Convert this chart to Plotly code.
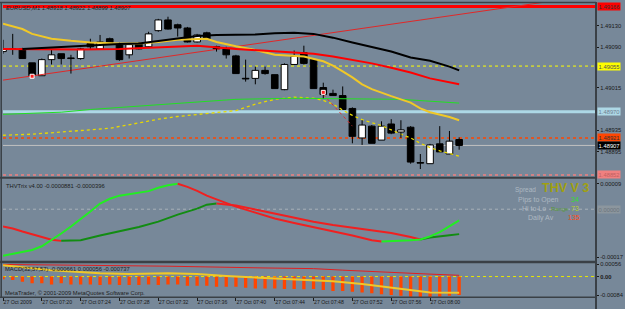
import plotly.graph_objects as go

# ---------------- data ----------------
title_main = "EURUSD,M1 1.48918 1.48922 1.48899 1.48907"
title_trix = "THVTrix v4.00 -0.0000881 -0.0000396"
title_macd = "MACD(32,57,57) -0.000661 0.000056 -0.000737"
copyright_text = "MetaTrader, \u00a9 2001-2009 MetaQuotes Software Corp."

bar_idx = list(range(48))  # minutes after 07:16
opens = [1.49082, 1.49087, 1.49087, 1.49061, 1.49037, 1.49067, 1.49078, 1.49070, 1.49069, 1.49097,
         1.49087, 1.49106, 1.49097, 1.49076, 1.49097, 1.49091, 1.49121, 1.49141, 1.49132, 1.49126,
         1.49100, 1.49117, 1.49091, 1.49087, 1.49074, 1.49032, 1.49032, 1.49047, 1.49039, 1.49011,
         1.49058, 1.49080, 1.49067, 1.49015, 1.49004, 1.49000, 1.48976, 1.48921, 1.48943, 1.48917,
         1.48947, 1.48932, 1.48941, 1.48875, 1.48873, 1.48910, 1.48891, 1.48918]
highs = [1.49104, 1.49115, 1.49089, 1.49061, 1.49069, 1.49086, 1.49078, 1.49076, 1.49089, 1.49106,
         1.49113, 1.49108, 1.49099, 1.49097, 1.49100, 1.49119, 1.49143, 1.49147, 1.49134, 1.49128,
         1.49115, 1.49119, 1.49093, 1.49091, 1.49076, 1.49067, 1.49054, 1.49054, 1.49039, 1.49060,
         1.49084, 1.49093, 1.49069, 1.49024, 1.49011, 1.49017, 1.48978, 1.48954, 1.48945, 1.48952,
         1.48956, 1.48954, 1.48943, 1.48891, 1.48910, 1.48943, 1.48934, 1.48922]
lows = [1.49078, 1.49076, 1.49069, 1.49036, 1.49037, 1.49058, 1.49058, 1.49041, 1.49067, 1.49087,
        1.49086, 1.49095, 1.49065, 1.49069, 1.49086, 1.49089, 1.49119, 1.49123, 1.49110, 1.49099,
        1.49099, 1.49104, 1.49082, 1.49069, 1.49041, 1.49026, 1.49021, 1.49039, 1.49013, 1.49010,
        1.49058, 1.49058, 1.49013, 1.48995, 1.49000, 1.48974, 1.48911, 1.48908, 1.48911, 1.48917,
        1.48928, 1.48921, 1.48873, 1.48863, 1.48873, 1.48895, 1.48891, 1.48899]
closes = [1.49087, 1.49086, 1.49069, 1.49037, 1.49067, 1.49076, 1.49069, 1.49069, 1.49087, 1.49091,
          1.49100, 1.49099, 1.49067, 1.49095, 1.49087, 1.49115, 1.49141, 1.49124, 1.49126, 1.49100,
          1.49113, 1.49106, 1.49087, 1.49076, 1.49041, 1.49031, 1.49047, 1.49041, 1.49013, 1.49058,
          1.49073, 1.49060, 1.49013, 1.49002, 1.49000, 1.48974, 1.48924, 1.48945, 1.48911, 1.48943,
          1.48930, 1.48936, 1.48876, 1.48874, 1.48908, 1.48895, 1.48915, 1.48907]

time_tick_bars = [0, 4, 8, 12, 16, 20, 24, 28, 32, 36, 40, 44]
time_tick_labels = ["27 Oct 2009", "27 Oct 07:20", "27 Oct 07:24", "27 Oct 07:28", "27 Oct 07:32",
                    "27 Oct 07:36", "27 Oct 07:40", "27 Oct 07:44", "27 Oct 07:48", "27 Oct 07:52",
                    "27 Oct 07:56", "27 Oct 08:00"]

# visible price-scale labels (the others are hidden under the level boxes)
price_ticks = [1.49130, 1.49090, 1.49015, 1.48935, 1.48895]

black_k = [2, 4, 6, 8, 10, 12, 14, 16, 18, 20, 22, 24, 26, 28, 30, 32, 34, 36, 38, 40, 42, 44, 46, 47]
black_p = [1.49087, 1.49089, 1.49091, 1.49093, 1.49095, 1.49096, 1.49097, 1.49102, 1.49106, 1.49111,
           1.49113, 1.49113, 1.49114, 1.49116, 1.49117, 1.49115, 1.49108, 1.49099, 1.49091, 1.49082,
           1.49071, 1.49065, 1.49054, 1.49047]

red_ma_k = [0, 4, 8, 12, 16, 20, 24, 28, 32, 34, 36, 38, 40, 42, 44, 47]
red_ma_p = [1.49087, 1.49086, 1.49086, 1.49087, 1.49090, 1.49093, 1.49087, 1.49082, 1.49078, 1.49073,
            1.49067, 1.49060, 1.49052, 1.49043, 1.49032, 1.49021]

yel_ma_k = [0, 2, 3, 5, 7, 9, 12, 14, 16, 18, 21, 22, 24, 26, 28, 31, 33, 34, 35, 36, 37, 38, 40, 41,
            42, 43, 44, 46, 47]
yel_ma_p = [1.49134, 1.49124, 1.49115, 1.49106, 1.49102, 1.49099, 1.49097, 1.49097, 1.49100, 1.49104,
            1.49106, 1.49100, 1.49092, 1.49085, 1.49076, 1.49073, 1.49064, 1.49056, 1.49045, 1.49034,
            1.49021, 1.49012, 1.48999, 1.48993, 1.48987, 1.48976, 1.48969, 1.48960, 1.48954]

green_k = [0, 3, 6, 9, 12, 15, 18, 21, 24, 30, 37, 41, 47]
green_p = [1.48965, 1.48967, 1.48969, 1.48974, 1.48978, 1.48982, 1.48986, 1.48989, 1.48993, 1.48995,
           1.48993, 1.48993, 1.48986]

ydot_k = [0, 3, 6, 8, 11, 14, 16, 18, 21, 24, 26, 28, 30, 32, 33, 34, 35, 36, 37, 38, 39, 41, 42, 43,
          44, 45, 46, 47]
ydot_p = [1.48926, 1.48928, 1.48932, 1.48935, 1.48939, 1.48949, 1.48956, 1.48961, 1.48967, 1.48972,
          1.48984, 1.48993, 1.48997, 1.48995, 1.48991, 1.48984, 1.48973, 1.48963, 1.48955, 1.48950,
          1.48944, 1.48928, 1.48921, 1.48911, 1.48903, 1.48897, 1.48892, 1.48887]

trend_k = [-0.3, 61.1]
trend_p = [1.49028, 1.49188]
rdash_k = [33, 36]
rdash_p = [1.49002, 1.48943]
signal_k = [3, 33]
signal_p = [1.49036, 1.49006]

# horizontal price levels: value, colour, width, dash, label bg, label text colour
level_vals = [1.49166, 1.49055, 1.48970, 1.48921, 1.48907, 1.48852]
level_cols = ["#ff0000", "#ffff00", "#add8e6", "#ff4500", "#c0c0c0", "#f08080"]
level_w = [3, 1, 3, 1.5, 1, 1.5]
level_dash = ["solid", "dot", "solid", "dot", "solid", "dot"]
level_box = ["#ff0000", "#ffff00", "#add8e6", "#ff4500", "#000000", "#f08080"]
level_txt = ["#303030", "#505050", "#708090", "#303030", "#ffffff", "#c06060"]

# THV Trix sub-window
fast_k = [0, 2, 3, 4, 5, 6, 7, 8, 9, 10, 11, 12, 13, 14, 15, 16, 17, 18, 19, 20, 21, 22, 24, 26, 28,
          30, 32, 34, 36, 38, 39, 40, 41, 42, 43, 44, 45, 46, 47]
fast_v = [-165, -152, -144, -131, -110, -86, -61, -36, -8, 20, 37, 48, 53, 57, 64, 76, 85, 90, 79, 65,
          48, 35, 9, -12, -33, -49, -63, -77, -93, -110, -114, -113, -112, -110, -107, -96, -81, -61,
          -39.6]  # x 1e-6
slow_k = [0, 1, 2, 3, 4, 5, 6, 8, 10, 12, 14, 16, 18, 20, 21, 22, 24, 26, 28, 30, 32, 34, 36, 38, 40,
          42, 43, 44, 46, 47]
slow_v = [-61, -68, -79, -89, -100, -108, -112, -110, -93, -79, -63, -44, -19, 2, 16, 20, 13, -1, -16,
          -30, -44, -56, -66, -75, -84, -98, -107, -100, -92, -88.1]  # x 1e-6
trix_ticks = [0.00009, -0.00017]

# MACD sub-window
macd_hist = [-0.00012, -0.00016, -0.00024, -0.00031, -0.00031, -0.00036, -0.00031, -0.00036, -0.00036,
             -0.00036, -0.00039, -0.00036, -0.00039, -0.00039, -0.00039, -0.00036, -0.00039, -0.00036,
             -0.00036, -0.00042, -0.00042, -0.00042, -0.00046, -0.00046, -0.00046, -0.00051, -0.00054,
             -0.00054, -0.00054, -0.00057, -0.00057, -0.00058, -0.00057, -0.00061, -0.00066, -0.00066,
             -0.00069, -0.00072, -0.00076, -0.00081, -0.00084, -0.00087, -0.00092, -0.00096, -0.00096,
             -0.00092, -0.00087, -0.00084]
macd_red_k = [0, 10, 17, 27, 32, 35, 39, 44, 47]
macd_red_v = [0.00055, 0.00051, 0.00047, 0.00039, 0.00036, 0.00029, 0.00020, 0.00011, 0.000056]
macd_yel_k = [0, 2, 5, 10, 13, 17, 20, 23, 27, 30, 34, 37, 40, 44, 47]
macd_yel_v = [0.00051, 0.00042, 0.00029, 0.00015, 0.00011, 0.00015, 0.00011, 0.00002, -0.00007, -0.00011,
              -0.00021, -0.00034, -0.00052, -0.00073, -0.000737]
macd_ticks = [0.00056, 0.0, -0.00084]
macd_tick_labels = ["0.00056", "<b>0.00</b>", "-0.00084"]

# ---------------- styling / layout helpers ----------------
BG = "#778899"
FONT = "Liberation Sans"
W, H = 625, 309
L, R, T, B = 3, 23, 1, 12
PW = W - L - R
PH = H - T - B


def px(x):
    return (x - L) / PW


def py(y):
    return (H - B - y) / PH


XR = [0, 61.1]
fig = go.Figure()

# ---- main window ----
fig.add_trace(go.Scatter(x=trend_k, y=trend_p, mode="lines", line=dict(color="#e02828", width=1),
                         xaxis="x", yaxis="y"))
fig.add_trace(go.Scatter(x=ydot_k, y=ydot_p, mode="lines", line=dict(color="#e8d800", width=1.3, dash="dot"),
                         xaxis="x", yaxis="y"))
fig.add_trace(go.Scatter(x=rdash_k, y=rdash_p, mode="lines", line=dict(color="#e03030", width=1, dash="dot"),
                         xaxis="x", yaxis="y"))
fig.add_trace(go.Scatter(x=green_k, y=green_p, mode="lines", line=dict(color="#22e022", width=1),
                         xaxis="x", yaxis="y"))

body_base = [min(o, c) for o, c in zip(opens, closes)]
body_h = [max(abs(c - o), 0.000012) for o, c in zip(opens, closes)]
body_col = ["#ffffff" if c > o else "#000000" for o, c in zip(opens, closes)]
fig.add_trace(go.Bar(x=bar_idx, y=body_h, base=body_base, width=0.68,
                     marker=dict(color=body_col, line=dict(color="#000000", width=1)),
                     xaxis="x", yaxis="y"))
wx, wy = [], []
for k, o, h, l, c in zip(bar_idx, opens, highs, lows, closes):
    top, bot = max(o, c), min(o, c)
    if h > top:
        wx += [k, k, None]
        wy += [top, h, None]
    if l < bot:
        wx += [k, k, None]
        wy += [l, bot, None]
fig.add_trace(go.Scatter(x=wx, y=wy, mode="lines", line=dict(color="#000000", width=1),
                         xaxis="x", yaxis="y"))

fig.add_trace(go.Scatter(x=yel_ma_k, y=yel_ma_p, mode="lines", line=dict(color="#f0c828", width=2),
                         xaxis="x", yaxis="y"))
fig.add_trace(go.Scatter(x=red_ma_k, y=red_ma_p, mode="lines", line=dict(color="#ff0000", width=2),
                         xaxis="x", yaxis="y"))
fig.add_trace(go.Scatter(x=black_k, y=black_p, mode="lines", line=dict(color="#000000", width=2),
                         xaxis="x", yaxis="y"))
fig.add_trace(go.Scatter(x=signal_k, y=signal_p, mode="markers",
                         marker=dict(color="#ff2020", size=4, symbol="square", line=dict(color="#ffffff", width=1)),
                         xaxis="x", yaxis="y"))


def add_dir_line(ks, vs, up_col, down_col):
    vals = [v * 1e-6 for v in vs]
    seg_k, seg_v, cur = [ks[0]], [vals[0]], None
    for i in range(1, len(ks)):
        col = up_col if vals[i] >= vals[i - 1] else down_col
        if cur is not None and col != cur:
            fig.add_trace(go.Scatter(x=seg_k, y=seg_v, mode="lines", line=dict(color=cur, width=2),
                                     xaxis="x2", yaxis="y2"))
            seg_k, seg_v = [ks[i - 1]], [vals[i - 1]]
        cur = col
        seg_k.append(ks[i])
        seg_v.append(vals[i])
    fig.add_trace(go.Scatter(x=seg_k, y=seg_v, mode="lines", line=dict(color=cur, width=2),
                             xaxis="x2", yaxis="y2"))


add_dir_line(slow_k, slow_v, "#128c12", "#f02020")
add_dir_line(fast_k, fast_v, "#22ee22", "#f02020")

fig.add_trace(go.Bar(x=bar_idx, y=macd_hist, width=0.34, marker=dict(color="#ff4500", line=dict(width=0)),
                     xaxis="x3", yaxis="y3"))
fig.add_trace(go.Scatter(x=macd_red_k, y=macd_red_v, mode="lines", line=dict(color="#e02020", width=1),
                         xaxis="x3", yaxis="y3"))
fig.add_trace(go.Scatter(x=macd_yel_k, y=macd_yel_v, mode="lines", line=dict(color="#f0c828", width=2),
                         xaxis="x3", yaxis="y3"))

# ---------------- shapes ----------------
shapes = []
for v, col, w, d in zip(level_vals, level_cols, level_w, level_dash):
    shapes.append(dict(type="line", xref="x domain", x0=0, x1=1, yref="y", y0=v, y1=v,
                       line=dict(color=col, width=w, dash=d), layer="below"))
shapes.append(dict(type="line", xref="x2 domain", x0=0, x1=1, yref="y2", y0=0, y1=0,
                   line=dict(color="#a8b0b8", width=1, dash="dot"), layer="below"))
shapes.append(dict(type="line", xref="x3 domain", x0=0, x1=1, yref="y3", y0=0, y1=0,
                   line=dict(color="#e8e800", width=1, dash="dot"), layer="below"))
DARK = "#3a4046"
for yy, w in [(177, 2), (261.7, 2.5), (0.5, 1.5), (297.3, 1.5)]:
    shapes.append(dict(type="line", xref="paper", x0=px(0), x1=px(602), yref="paper", y0=py(yy), y1=py(yy),
                       line=dict(color=DARK, width=w)))
shapes.append(dict(type="line", xref="paper", x0=px(602), x1=px(602), yref="paper", y0=py(309), y1=py(0),
                   line=dict(color=DARK, width=2)))
shapes.append(dict(type="line", xref="paper", x0=px(1.2), x1=px(1.2), yref="paper", y0=py(297), y1=py(0),
                   line=dict(color=DARK, width=1.5)))

# ---------------- annotations ----------------
FS = 5.8
ann = []
ann.append(dict(text=title_main, xref="paper", yref="paper", x=px(4), y=py(6.5), xanchor="left",
                yanchor="middle", showarrow=False, font=dict(size=FS, color="#202020", family=FONT)))
ann.append(dict(text=title_trix, xref="paper", yref="paper", x=px(4), y=py(185), xanchor="left",
                yanchor="middle", showarrow=False, font=dict(size=FS, color="#202020", family=FONT)))
ann.append(dict(text=title_macd, xref="paper", yref="paper", x=px(3), y=py(268.5), xanchor="left",
                yanchor="middle", showarrow=False, font=dict(size=FS, color="#202020", family=FONT)))
ann.append(dict(text=copyright_text, xref="paper", yref="paper", x=px(3), y=py(292.5), xanchor="left",
                yanchor="middle", showarrow=False, font=dict(size=FS, color="#202020", family=FONT)))

for v, bg, tc in zip(level_vals, level_box, level_txt):
    ann.append(dict(text="%.5f" % v, xref="paper", yref="y", x=px(603), y=v, xanchor="left",
                    yanchor="middle", showarrow=False, bgcolor=bg, borderpad=0.6,
                    font=dict(size=FS, color=tc, family=FONT)))
ann.append(dict(text="0.00000", xref="paper", yref="y2", x=px(603), y=0, xanchor="left", yanchor="middle",
                showarrow=False, bgcolor="#8c969e", borderpad=0.6, font=dict(size=FS, color="#6a747c", family=FONT)))

GRAY = "#aeb8c2"
info = [
    ("Spread", GRAY, 543, 189, "right", 6.5),
    ("Pips to Open", GRAY, 567, 199, "right", 7),
    ("34", "#33dd33", 575, 199, "left", 7),
    ("Hi to Lo", GRAY, 554, 208, "right", 7),
    ("Range", "#5a9a3a", 555, 208.5, "left", 6),
    ("73", "#b8d030", 575, 208, "left", 7),
    ("Daily Av", GRAY, 562, 217, "right", 7),
    ("135", "#ff4a1a", 572, 217, "left", 7),
]
for txt, col, xx, yy, anc, fs in info:
    ann.append(dict(text=txt, xref="paper", yref="paper", x=px(xx), y=py(yy), xanchor=anc, yanchor="middle",
                    showarrow=False, font=dict(size=fs, color=col, family=FONT)))
ann.append(dict(text="<b>THV V 3</b>", xref="paper", yref="paper", x=px(571), y=py(187.5), xanchor="center",
                yanchor="middle", showarrow=False, font=dict(size=12.5, color="#a0a010", family=FONT)))

axis_common = dict(showgrid=False, zeroline=False, showline=False)
tickfont = dict(size=FS, color="#1a1a1a", family=FONT)

fig.update_layout(
    width=W, height=H, margin=dict(l=L, r=R, t=T, b=B),
    paper_bgcolor=BG, plot_bgcolor=BG, showlegend=False, barmode="overlay", hovermode=False,
    font=dict(family=FONT, size=FS, color="#1a1a1a"),
    xaxis=dict(domain=[0, 1], range=XR, anchor="y", showticklabels=False, ticks="", **axis_common),
    xaxis2=dict(domain=[0, 1], range=XR, anchor="y2", showticklabels=False, ticks="", **axis_common),
    xaxis3=dict(domain=[0, 1], range=XR, anchor="y3", tickmode="array", tickvals=time_tick_bars,
                ticktext=time_tick_labels, ticks="outside", ticklen=3, tickcolor="#1a1a1a",
                ticklabelposition="outside right", tickfont=dict(size=5.2, color="#1a1a1a", family=FONT),
                **axis_common),
    yaxis=dict(domain=[py(176), 1], range=[1.488485, 1.491726], anchor="x", side="right",
               tickmode="array", tickvals=price_ticks, ticktext=["%.5f" % v for v in price_ticks],
               ticks="outside", ticklen=2, tickcolor="#1a1a1a", tickfont=tickfont, **axis_common),
    yaxis2=dict(domain=[py(260.5), py(178)], range=[-0.0001823, 0.0001076], anchor="x2", side="right",
                tickmode="array", tickvals=trix_ticks, ticktext=["0.00009", "-0.00017"],
                ticks="outside", ticklen=2, tickcolor="#1a1a1a", tickfont=tickfont, **axis_common),
    yaxis3=dict(domain=[0, py(263)], range=[-0.00093, 0.000605], anchor="x3", side="right",
                tickmode="array", tickvals=macd_ticks, ticktext=macd_tick_labels,
                ticks="outside", ticklen=2, tickcolor="#1a1a1a", tickfont=tickfont, **axis_common),
    shapes=shapes, annotations=ann,
)

fig.write_html("out.html")
